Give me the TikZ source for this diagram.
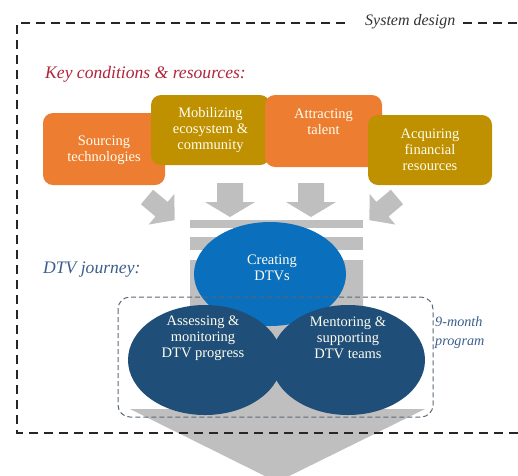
\documentclass[tikz,border=0pt]{standalone}
\usepackage{fontspec}
\setmainfont{Liberation Serif}
\usetikzlibrary{shapes.geometric}
\definecolor{gbar}{HTML}{BFBFBF}
\definecolor{orng}{HTML}{ED7D31}
\definecolor{gold}{HTML}{BF9000}
\definecolor{blueA}{HTML}{0A70BE}
\definecolor{blueD}{HTML}{1F4E79}
\definecolor{redT}{HTML}{B0243A}
\definecolor{blueT}{HTML}{3A5E8C}
\definecolor{frameG}{HTML}{5A6878}
\tikzset{
  boxbase/.style={rounded corners=10pt, inner sep=0pt, draw=none},
  orbox/.style={boxbase, fill=orng},
  gdbox/.style={boxbase, fill=gold},
  boxtxt/.style={text=white!94!yellow, align=center, inner sep=0pt, font=\fontsize{14.5}{15.8}\selectfont},
  ell/.style={ellipse, inner sep=0pt, draw=none},
  ttl/.style={inner sep=0pt, anchor=west, font=\fontsize{17.6}{20}\selectfont\itshape},
  grey/.style={fill=gbar, draw=none},
  blackdash/.style={draw=black!85, line width=1.8pt, dash pattern=on 9pt off 6pt},
}
\begin{document}
\begin{tikzpicture}[x=1pt,y=-1pt]
\useasboundingbox (0,0) rectangle (518,475);
\begin{scope}
\clip (0,0) rectangle (518,475);
% big grey arrow
\fill[grey] (190,260) -- (363,260) -- (363,409) -- (425,409) -- (277,482) -- (130,409) -- (190,409) -- cycle;
\end{scope}
% bars
\fill[grey] (190,220) rectangle (363,228);
\fill[grey] (190,237) rectangle (363,250);
% straight arrows
\foreach \cx in {230,311}{
  \fill[grey] (\cx-13,183) -- (\cx+13,183) -- (\cx+13,202) -- (\cx+25,202) -- (\cx,217) -- (\cx-25,202) -- (\cx-13,202) -- cycle;
}
% diagonal arrows
\begin{scope}[shift={(147,197)}, rotate=-40]
  \fill[grey] (0,-9.5) -- (19,-9.5) -- (19,-20) -- (36,0) -- (19,20) -- (19,9.5) -- (0,9.5) -- cycle;
\end{scope}
\begin{scope}[shift={(397,197)}, rotate=40]
  \fill[grey] (0,-9.5) -- (-19,-9.5) -- (-19,-20) -- (-36,0) -- (-19,20) -- (-19,9.5) -- (0,9.5) -- cycle;
\end{scope}
% boxes
\node[orbox, minimum width=122pt, minimum height=72pt] (src) at (104,149) {};
\node[boxtxt] (srct) at (104,150) {Sourcing\\technologies};
\node[gdbox, minimum width=119pt, minimum height=70pt] (mob) at (210.5,130) {};
\node[boxtxt] (mobt) at (210.5,130) {Mobilizing\\ecosystem \&\\community};
\node[orbox, minimum width=117pt, minimum height=72pt] (att) at (323.5,131) {};
\node[boxtxt] (attt) at (323.5,122) {Attracting\\talent};
\node[gdbox, minimum width=124pt, minimum height=70pt] (acq) at (430,150) {};
\node[boxtxt] (acqt) at (430,150) {Acquiring\\financial\\resources};
% ellipses
\node[ell, fill=blueA, minimum width=152pt, minimum height=104pt] (cre) at (270,274) {};
\node[boxtxt] (cret) at (272,268) {Creating\\DTVs};
\node[ell, fill=blueD, minimum width=154pt, minimum height=110pt] (ass) at (205,360) {};
\node[ell, fill=blueD, minimum width=154pt, minimum height=110pt] (men) at (348,360) {};
\node[boxtxt] (asst) at (203,338) {Assessing \&\\monitoring\\DTV progress};
\node[boxtxt] (ment) at (348,338) {Mentoring \&\\supporting\\DTV teams};
% program frame
\draw[frameG, line width=1pt, dash pattern=on 5pt off 3pt, rounded corners=12pt] (118,297) rectangle (433,417);
\node[inner sep=0pt, anchor=west, text=blueT, align=left, font=\fontsize{14.2}{19}\selectfont\itshape] (prog) at (435,333) {9-month\\program};
% labels
\node[ttl, text=redT] (key) at (45,74) {Key conditions \& resources:};
\node[ttl, text=blueT] (dtv) at (43,270) {DTV journey:};
\node[inner sep=0pt, anchor=west, text=black!80, font=\fontsize{16}{18}\selectfont\itshape] (sys) at (365,22) {System design};
% system frame
\coordinate (f1) at (345,23);
\coordinate (f2) at (17,23);
\coordinate (f3) at (17,433);
\coordinate (f4) at (520,433);
\coordinate (f5) at (463,23);
\coordinate (f6) at (520,23);
\draw[blackdash] (f1) -- (f2) -- (f3) -- (f4);
\draw[blackdash] (f5) -- (f6);
\end{tikzpicture}
\end{document}
